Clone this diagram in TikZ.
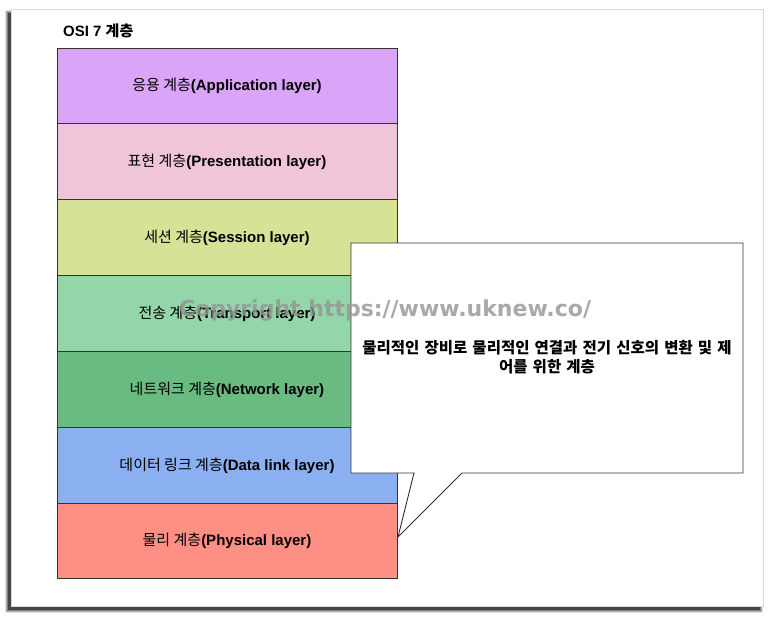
\documentclass[tikz,border=0pt]{standalone}
\usepackage{fontspec}
\setmainfont{Liberation Sans}
\newfontfamily\kr{Noto Sans CJK KR}
\newfontfamily\wmfont{DejaVu Sans}
\usetikzlibrary{calc}
\definecolor{cApp}{HTML}{DAA5F8}
\definecolor{cPre}{HTML}{F0C5D9}
\definecolor{cSes}{HTML}{D6E396}
\definecolor{cTra}{HTML}{93D6A9}
\definecolor{cNet}{HTML}{69BB81}
\definecolor{cDat}{HTML}{8AB0F2}
\definecolor{cPhy}{HTML}{FE8F85}
\definecolor{edge}{HTML}{333333}
\tikzset{
  layer/.style={draw=edge, line width=0.9pt, minimum width=340pt, minimum height=75.9pt,
    inner sep=0pt, outer sep=0pt, font=\fontsize{15}{17}\selectfont, anchor=north west},
  callout/.style={draw=edge, line width=0.9pt, fill=white},
}
\newcommand{\lbl}[2]{{\kr #1}\textbf{(#2)}}
\begin{document}
\begin{tikzpicture}[x=1pt,y=-1pt]
\useasboundingbox (0,0) rectangle (775,618);
% frame shadow
\foreach \o/\a in {3/0.12,2/0.2,1/0.3,0/0.45}{
  \fill[black,opacity=\a] (8-\o,13-\o) rectangle (760+\o,610+\o);
}
\fill[white] (11,10) rectangle (763,606);
\draw[black!15, line width=1pt] (11,10) rectangle (763,606);
% title
\node[anchor=west, inner sep=0pt, font=\fontsize{15}{17}\selectfont\bfseries] (title) at (63,31) {OSI 7 {\kr 계층}};
% layers
\node[layer, fill=cApp] (app) at (57,48) {\lbl{응용 계층}{Application layer}};
\node[layer, fill=cPre] (pre) at (app.south west) {\lbl{표현 계층}{Presentation layer}};
\node[layer, fill=cSes] (ses) at (pre.south west) {\lbl{세션 계층}{Session layer}};
\node[layer, fill=cTra] (tra) at (ses.south west) {\lbl{전송 계층}{Transport layer}};
\node[layer, fill=cNet] (net) at (tra.south west) {\lbl{네트워크 계층}{Network layer}};
\node[layer, fill=cDat] (dat) at (net.south west) {\lbl{데이터 링크 계층}{Data link layer}};
\node[layer, fill=cPhy, minimum height=75pt] (phy) at (dat.south west) {\lbl{물리 계층}{Physical layer}};
% callout
\coordinate (tip) at ($(phy.east)+(1,-4)$);
\draw[callout] (351,243) -- (743,243) -- (743,473) -- (462,473) -- (tip) -- (414,473) -- (351,473) -- cycle;
\node[align=center, inner sep=0pt, text width=390pt, font=\kr\bfseries\fontsize{15.5}{19.5}\selectfont] (desc) at (547,357)
  {물리적인 장비로 물리적인 연결과 전기 신호의 변환 및 제\\어를 위한 계층};
% watermark
\node[inner sep=0pt, text=black!42, opacity=0.8, font=\wmfont\bfseries\fontsize{22}{24}\selectfont] (wm) at (385,311)
  {Copyright https://www.uknew.co/};
\end{tikzpicture}
\end{document}
